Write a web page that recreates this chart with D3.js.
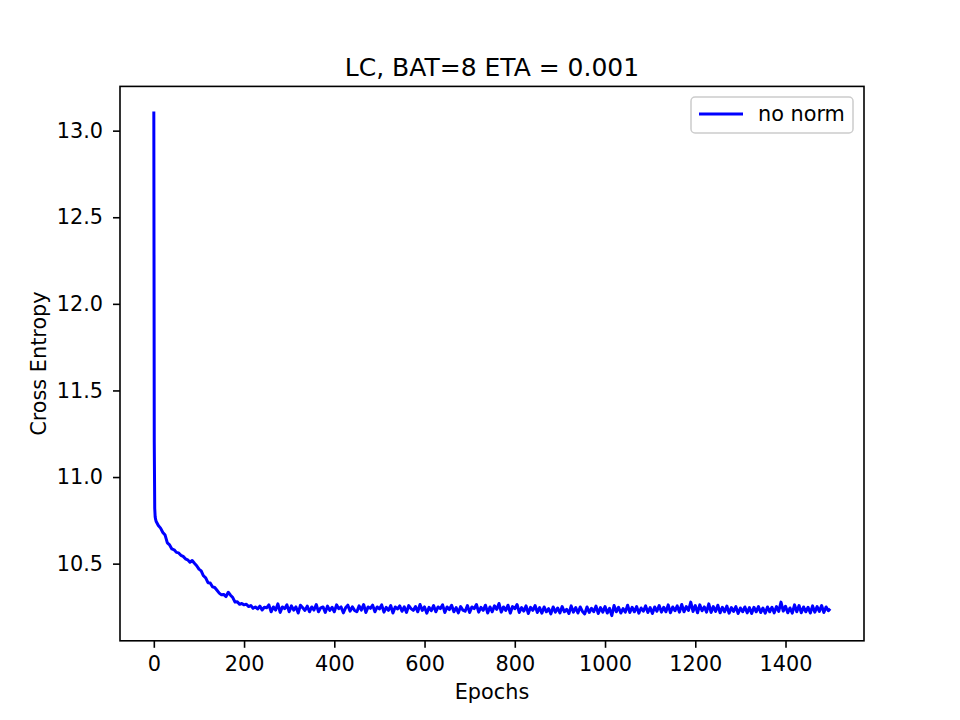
<html>
<head>
<meta charset="utf-8">
<script src="https://d3js.org/d3.v7.min.js"></script>
<style>
  body { margin: 0; background: #fff; }
  svg { font-family: "DejaVu Sans", sans-serif; }
</style>
</head>
<body>
<svg id="chart"></svg>
<script>
// data
var title = "LC, BAT=8 ETA = 0.001";
var xLabel = "Epochs";
var yLabel = "Cross Entropy";
var seriesName = "no norm";

// first epochs, one point each
var headEpochs = [0, 1, 2, 3, 4, 5];
var headLoss = [13.11, 11.2, 10.82, 10.77, 10.755, 10.745];

// after that one reading every 5 epochs, from epoch 10 to 1495
var tailStart = 10;
var tailStep = 5;
var tailLoss = [
  10.72, 10.705, 10.68, 10.665, 10.62, 10.608, 10.585, 10.58, 10.565, 10.562,
  10.548, 10.542, 10.528, 10.522, 10.508, 10.518, 10.502, 10.488, 10.468, 10.458,
  10.43, 10.418, 10.39, 10.388, 10.366, 10.362, 10.346, 10.33, 10.32, 10.322,
  10.31, 10.335, 10.318, 10.304, 10.278, 10.28, 10.265, 10.27, 10.262, 10.266,
  10.252, 10.258, 10.242, 10.25, 10.238, 10.255, 10.232, 10.248,
  // 250 - 345
  10.245, 10.262, 10.222, 10.25, 10.232, 10.268, 10.218, 10.25, 10.24, 10.262,
  10.222, 10.256, 10.232, 10.25, 10.215, 10.26, 10.245, 10.23, 10.255, 10.222,
  // 350 - 445
  10.25, 10.232, 10.264, 10.222, 10.245, 10.25, 10.218, 10.255, 10.23, 10.248,
  10.222, 10.262, 10.24, 10.25, 10.216, 10.245, 10.26, 10.226, 10.25, 10.23,
  // 450 - 545
  10.222, 10.256, 10.232, 10.264, 10.218, 10.25, 10.242, 10.26, 10.222, 10.25,
  10.238, 10.262, 10.22, 10.248, 10.23, 10.258, 10.215, 10.25, 10.238, 10.256,
  // 550 - 645
  10.225, 10.25, 10.218, 10.258, 10.24, 10.23, 10.252, 10.222, 10.264, 10.23,
  10.25, 10.214, 10.248, 10.228, 10.258, 10.222, 10.25, 10.24, 10.262, 10.218,
  // 650 - 745
  10.25, 10.235, 10.26, 10.222, 10.246, 10.216, 10.252, 10.232, 10.225, 10.258,
  10.218, 10.25, 10.24, 10.264, 10.22, 10.248, 10.23, 10.26, 10.215, 10.25,
  // 750 - 845
  10.222, 10.256, 10.236, 10.27, 10.22, 10.25, 10.23, 10.26, 10.214, 10.252,
  10.24, 10.264, 10.218, 10.246, 10.226, 10.256, 10.212, 10.248, 10.23, 10.258,
  // 850 - 945
  10.218, 10.246, 10.214, 10.25, 10.222, 10.24, 10.21, 10.25, 10.22, 10.244,
  10.215, 10.252, 10.222, 10.236, 10.212, 10.256, 10.22, 10.246, 10.215, 10.25,
  // 950 - 1045
  10.224, 10.21, 10.25, 10.218, 10.242, 10.222, 10.255, 10.212, 10.246, 10.22,
  10.252, 10.215, 10.242, 10.20, 10.258, 10.222, 10.248, 10.215, 10.24, 10.22,
  // 1050 - 1145
  10.26, 10.218, 10.248, 10.222, 10.252, 10.214, 10.244, 10.225, 10.256, 10.218,
  10.246, 10.212, 10.25, 10.225, 10.258, 10.22, 10.248, 10.222, 10.262, 10.216,
  // 1150 - 1245
  10.25, 10.228, 10.256, 10.22, 10.264, 10.222, 10.252, 10.23, 10.278, 10.224,
  10.258, 10.216, 10.262, 10.228, 10.25, 10.22, 10.268, 10.218, 10.252, 10.224,
  // 1250 - 1345
  10.26, 10.216, 10.248, 10.222, 10.255, 10.214, 10.246, 10.224, 10.252, 10.212,
  10.244, 10.222, 10.25, 10.216, 10.246, 10.212, 10.248, 10.222, 10.252, 10.218,
  // 1350 - 1445
  10.244, 10.214, 10.25, 10.222, 10.248, 10.216, 10.252, 10.224, 10.278, 10.226,
  10.254, 10.216, 10.244, 10.214, 10.262, 10.222, 10.258, 10.216, 10.25, 10.222,
  // 1450 - 1495
  10.248, 10.215, 10.256, 10.22, 10.252, 10.224, 10.258, 10.218, 10.25, 10.228
];
var lastEpoch = 1499;
var lastLoss = 10.24;

var xTicks = [0, 200, 400, 600, 800, 1000, 1200, 1400];
var yTicks = [10.5, 11.0, 11.5, 12.0, 12.5, 13.0];

window.onload = function() {
  draw();
};

function draw() {
  // build the point list
  var points = headEpochs.map((e, i) => ({x: e, y: headLoss[i]}));
  tailLoss.forEach((v, i) => points.push({x: tailStart + i * tailStep, y: v}));
  points.push({x: lastEpoch, y: lastLoss});

  var W = 960, H = 720;
  // axes box (window.top is taken, so own names)
  var axL = 120, axR = 864, axT = 86.4, axB = 640.8;

  var svg = d3.select("#chart").attr("width", W).attr("height", H);
  svg.append("rect").attr("width", W).attr("height", H).attr("fill", "#fff");

  // matplotlib style 5% margins
  function padded(ext) {
    var d = (ext[1] - ext[0]) * 0.05;
    return [ext[0] - d, ext[1] + d];
  }
  var x = d3.scaleLinear().domain(padded(d3.extent(points, d => d.x))).range([axL, axR]);
  var y = d3.scaleLinear().domain(padded(d3.extent(points, d => d.y))).range([axB, axT]);

  var line = d3.line().x(d => x(d.x)).y(d => y(d.y));

  svg.append("defs").append("clipPath").attr("id", "clip")
    .append("rect").attr("x", axL).attr("y", axT)
    .attr("width", axR - axL).attr("height", axB - axT);

  svg.append("path")
    .datum(points)
    .attr("clip-path", "url(#clip)")
    .attr("d", line)
    .attr("fill", "none")
    .attr("stroke", "#0000ff")
    .attr("stroke-width", 3)
    .attr("stroke-linejoin", "round");

  // axes
  var xAxis = svg.append("g")
    .attr("transform", "translate(0," + axB + ")")
    .call(d3.axisBottom(x).tickValues(xTicks).tickFormat(d3.format("d")).tickSize(7).tickPadding(7).tickSizeOuter(0));
  var yAxis = svg.append("g")
    .attr("transform", "translate(" + axL + ",0)")
    .call(d3.axisLeft(y).tickValues(yTicks).tickFormat(d3.format(".1f")).tickSize(7).tickPadding(10).tickSizeOuter(0));

  [xAxis, yAxis].forEach(g => {
    g.select(".domain").remove();
    g.selectAll(".tick line").attr("stroke", "#000").attr("stroke-width", 1.6);
    g.selectAll(".tick text").attr("fill", "#000")
      .style("font-family", "DejaVu Sans").style("font-size", "20.8px");
  });
  xAxis.selectAll(".tick text").attr("dy", "0.77em");

  // frame
  svg.append("rect")
    .attr("x", axL).attr("y", axT)
    .attr("width", axR - axL).attr("height", axB - axT)
    .attr("fill", "none").attr("stroke", "#000").attr("stroke-width", 1.6);

  // title and labels
  svg.append("text")
    .attr("x", (axL + axR) / 2).attr("y", 75.5)
    .attr("text-anchor", "middle")
    .style("font-size", "25px")
    .text(title);

  svg.append("text")
    .attr("x", (axL + axR) / 2).attr("y", 699)
    .attr("text-anchor", "middle")
    .style("font-size", "20.8px")
    .text(xLabel);

  svg.append("text")
    .attr("transform", "translate(46," + ((axT + axB) / 2) + ") rotate(-90)")
    .attr("text-anchor", "middle")
    .style("font-size", "20.8px")
    .text(yLabel);

  // legend
  var lg = svg.append("g");
  lg.append("rect")
    .attr("x", 691).attr("y", 97)
    .attr("width", 162).attr("height", 36)
    .attr("rx", 4).attr("ry", 4)
    .attr("fill", "#fff").attr("fill-opacity", 0.8)
    .attr("stroke", "#cccccc").attr("stroke-width", 1.5);
  lg.append("line")
    .attr("x1", 699).attr("x2", 743)
    .attr("y1", 114).attr("y2", 114)
    .attr("stroke", "#0000ff").attr("stroke-width", 3);
  lg.append("text")
    .attr("x", 758).attr("y", 121)
    .style("font-size", "20.8px")
    .text(seriesName);
}
</script>
</body>
</html>
